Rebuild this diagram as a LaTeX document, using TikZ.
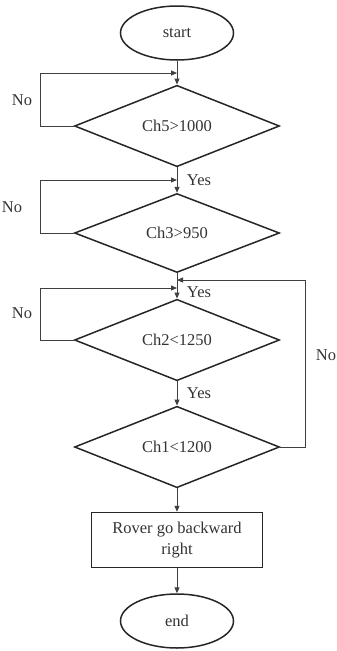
\documentclass[tikz,border=0pt]{standalone}
\usepackage{fontspec}
\setmainfont{Liberation Serif}
\usetikzlibrary{shapes.geometric,arrows.meta}
\tikzstyle{termbox}=[ellipse,draw=black!85,line width=1.5pt,inner sep=0pt,
                     minimum width=113pt,minimum height=54pt,text=black!80]
\tikzstyle{testbox}=[diamond,draw=black!85,line width=1.5pt,inner sep=0pt,
                     minimum width=205pt,minimum height=79pt,text=black!80]
\tikzstyle{actbox}=[rectangle,draw=black!85,line width=1.5pt,inner sep=0pt,
                    minimum width=171pt,minimum height=55pt,align=center,text=black!80]
\tikzstyle{flow}=[draw=black!75,line width=1pt,-{Triangle[length=6pt,width=5pt]}]
\tikzstyle{lbl}=[inner sep=0pt,text=black!80]

\begin{document}
\begin{tikzpicture}[x=1pt,y=-1pt,font=\fontsize{16.5}{21}\selectfont]
    \useasboundingbox (0,0) rectangle (337,651);
    \newcommand{\cx}{177}
    \node (start) at (\cx, 33) [termbox]{start};
    \node (ch5) at (\cx,126) [testbox]{Ch5>1000};
    \node (ch3) at (\cx,233) [testbox]{Ch3>950};
    \node (ch2) at (\cx,340) [testbox]{Ch2<1250};
    \node (ch1) at (\cx,447) [testbox]{Ch1<1200};
    \node (rover) at (\cx,540) [actbox]{Rover go backward\\right};
    \node (stop) at (\cx,621) [termbox]{end};
    \coordinate (j5) at (\cx, 73);
    \coordinate (j3) at (\cx,180);
    \coordinate (j2) at (\cx,288);
    \coordinate (j1) at (\cx,280);
    % main line
    \draw[flow] (start) -- (ch5);
    \draw[flow] (ch5) -- (ch3);
    \draw[flow] (ch3) -- (ch2);
    \draw[flow] (ch2) -- (ch1);
    \draw[flow] (ch1) -- (rover);
    \draw[flow] (rover) -- (stop);
    % loops back
    \draw[flow] (ch5.west) -- ++(-33,0) |- (j5);
    \draw[flow] (ch3.west) -- ++(-33,0) |- (j3);
    \draw[flow] (ch2.west) -- ++(-33,0) |- (j2);
    \draw[flow] (ch1.east) -- ++(25,0) |- (j1);
    % labels
    \node (no5) at (22,100) [lbl]{No};
    \node (no3) at (12,207) [lbl]{No};
    \node (no2) at (22,313) [lbl]{No};
    \node (no1) at (326,355) [lbl]{No};
    \node (yes3) at (199,180) [lbl]{Yes};
    \node (yes2) at (199,292) [lbl]{Yes};
    \node (yes1) at (199,393) [lbl]{Yes};
\end{tikzpicture}
\end{document}
